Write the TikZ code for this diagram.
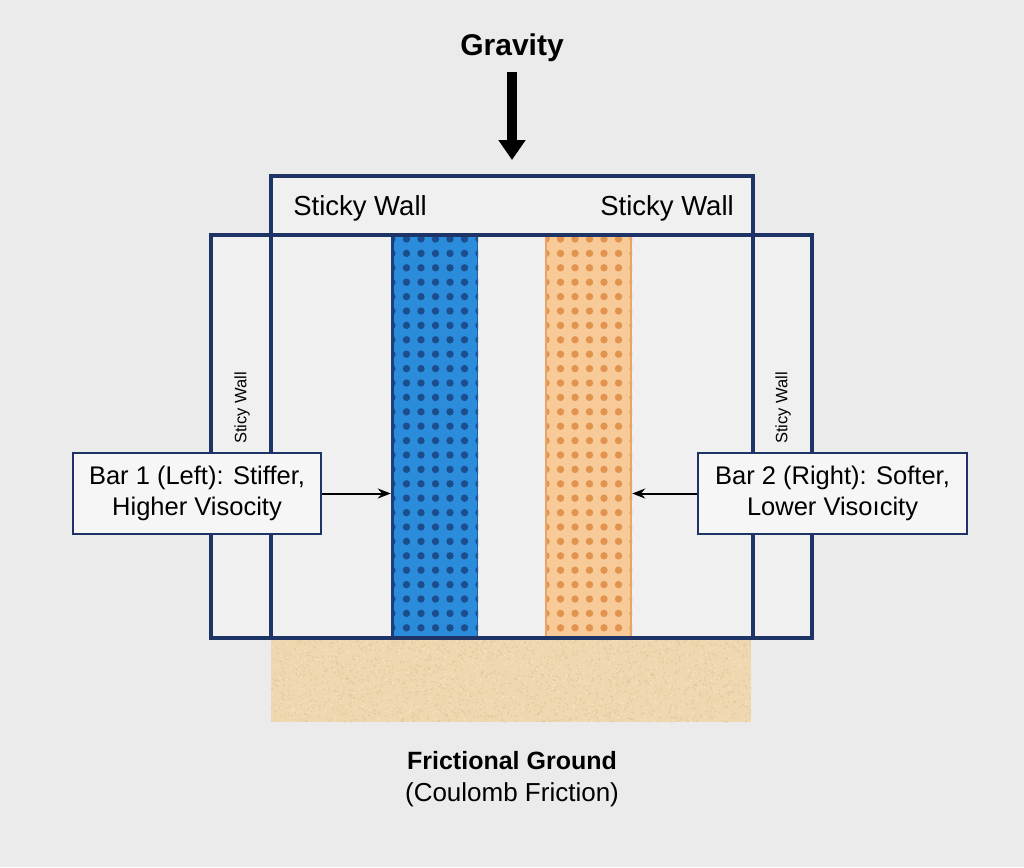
\documentclass[tikz,border=0pt]{standalone}
\usepackage{fontspec}
\setmainfont{Liberation Sans}
\usetikzlibrary{arrows.meta}
\definecolor{bgc}{HTML}{EBEBEB}
\definecolor{inner}{HTML}{F0F0F0}
\definecolor{navy}{HTML}{1E3466}
\definecolor{barblue}{HTML}{2A8CDA}
\definecolor{dotblue}{HTML}{1C4E8E}
\definecolor{edgeblue}{HTML}{1C3F7A}
\definecolor{barorange}{HTML}{F7CA97}
\definecolor{dotorange}{HTML}{E2944F}
\definecolor{edgeorange}{HTML}{EBA468}
\definecolor{sand}{HTML}{EFD7B0}
\definecolor{sanddark}{HTML}{DFBF90}
\definecolor{sandlight}{HTML}{F8E8CD}
\tikzset{
  frame/.style={draw=navy, line width=4pt},
  labelbox/.style={draw=navy, line width=2.5pt, fill=inner!60!white, align=center,
    font=\fontsize{25.5}{31}\selectfont, inner sep=0pt},
  walltxt/.style={font=\fontsize{27.5}{33}\selectfont, anchor=base},
  sidewall/.style={font=\fontsize{16.5}{20}\selectfont, rotate=90},
  pointer/.style={line width=2pt, -{Stealth[length=13pt,width=10pt]}},
}
\begin{document}
\begin{tikzpicture}[x=1pt,y=-1pt]
\useasboundingbox (0,0) rectangle (1024,867);
\fill[bgc] (0,0) rectangle (1024,867);
% interior fills
\fill[inner] (271,176) rectangle (753,638);
\fill[inner] (211,235) rectangle (812,638);
% blue bar
\node[minimum width=87pt, minimum height=403pt, inner sep=0pt, fill=barblue] (bluebar) at (434.5,436.5) {};
\begin{scope}
  \clip (391,235) rectangle (478,638);
  \foreach \r in {0,...,27} {
    \foreach \c in {0,...,6} {
      \fill[dotblue] ({392+14.5*\c},{239+14.4*\r}) circle (3.7);
    }
  }
\end{scope}
\draw[edgeblue, line width=3pt] (392.5,235) -- (392.5,638);
\draw[edgeblue!60!barblue, line width=1.5pt] (477.5,235) -- (477.5,638);
% orange bar
\node[minimum width=87pt, minimum height=403pt, inner sep=0pt, fill=barorange] (orangebar) at (588.5,436.5) {};
\begin{scope}
  \clip (545,235) rectangle (632,638);
  \foreach \r in {0,...,27} {
    \foreach \c in {0,...,6} {
      \fill[dotorange] ({546+14.5*\c},{239+14.4*\r}) circle (3.7);
    }
  }
\end{scope}
\draw[edgeorange, line width=2pt] (546,235) -- (546,638);
\draw[edgeorange, line width=2pt] (631,235) -- (631,638);
% frames
\draw[frame] (271,176) rectangle (753,638);
\draw[frame] (211,235) rectangle (812,638);
% ground
\fill[sand] (271,640) rectangle (751,722);
\begin{scope}
  \clip (271,640) rectangle (751,722);
  \pgfmathsetseed{7}
  \foreach \i in {1,...,1800} {
    \fill[sanddark, opacity=0.55] ({271+480*rnd},{640+82*rnd}) circle (0.9);
  }
  \foreach \i in {1,...,1000} {
    \fill[sandlight, opacity=0.7] ({271+480*rnd},{640+82*rnd}) circle (0.9);
  }
\end{scope}
% gravity
\node[font=\bfseries\fontsize{30}{36}\selectfont, anchor=base] (gravity) at (512,56) {Gravity};
\coordinate (gtop) at (512,72);
\coordinate (gbot) at (512,160);
\draw[line width=10pt, -{Triangle[length=20pt,width=26pt]}] (gtop) -- (gbot);
% top wall labels
\node[walltxt] (swl) at (360,215) {Sticky Wall};
\node[walltxt] (swr) at (667,215) {Sticky Wall};
% side wall labels
\node[sidewall] (sidel) at (242,408) {Sticy Wall};
\node[sidewall] (sider) at (783,408) {Sticy Wall};
% label boxes
\node[labelbox, minimum width=248pt, minimum height=81pt] (bar1) at (197,493.5)
  {Bar 1 (Left): Stiffer,\\Higher Visocity};
\node[labelbox, minimum width=269pt, minimum height=81pt] (bar2) at (832.5,493.5)
  {Bar 2 (Right): Softer,\\Lower Visoıcity};
\draw[pointer] (bar1.east) -- (bluebar.west |- bar1.east);
\draw[pointer] (bar2.west) -- (orangebar.east |- bar2.west);
% ground labels
\node[font=\bfseries\fontsize{25}{30}\selectfont, anchor=base] (fg) at (512,769) {Frictional Ground};
\node[font=\fontsize{26}{31}\selectfont, anchor=base] (cf) at (512,801) {(Coulomb Friction)};
\end{tikzpicture}
\end{document}
